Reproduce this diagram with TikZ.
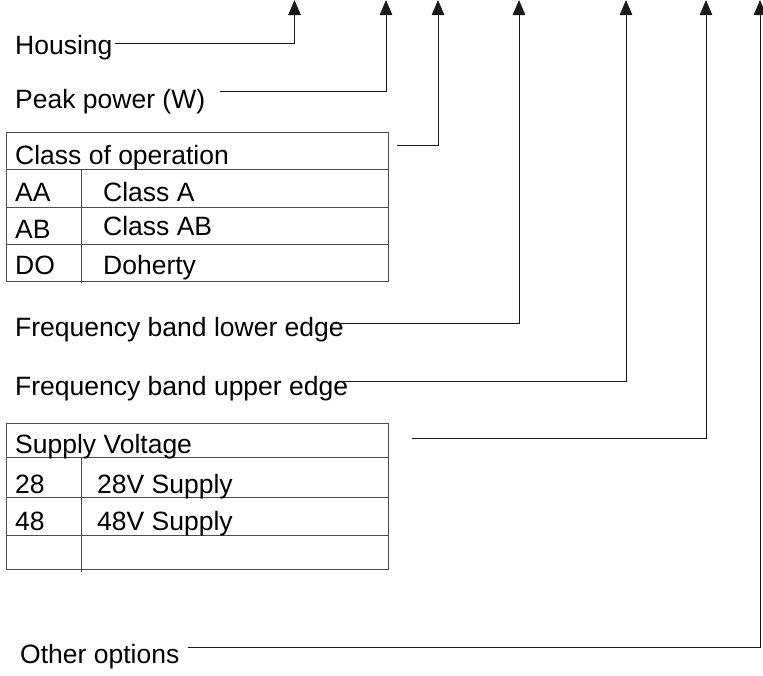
\documentclass[tikz,border=0pt]{standalone}
\usepackage{fontspec}
\setmainfont{Liberation Sans}
\usetikzlibrary{arrows.meta}
\begin{document}
\begin{tikzpicture}[x=1pt,y=-1pt,
  lbl/.style={anchor=base west,inner sep=0pt,font=\fontsize{26.5}{30}\selectfont},
  conn/.style={draw=black!90,line width=0.9pt,-{Triangle[length=15pt,width=12.5pt]}},
  tbl/.style={draw=black!70,line width=0.9pt,anchor=north west,inner sep=0pt},
  rule/.style={draw=black!70,line width=0.9pt}]
\useasboundingbox (0,0) rectangle (763,675);
% labels
\node[lbl] (hous) at (15,54) {Housing};
\node[lbl] (peak) at (15,108) {Peak power (W)};
\node[lbl] (flow) at (15,336) {Frequency band lower edge};
\node[lbl] (fup) at (15,395) {Frequency band upper edge};
\node[lbl] (oth) at (20,663) {Other options};
% class table
\node[tbl,minimum width=382pt,minimum height=149pt] (cls) at (6,132) {};
\draw[rule] (6,169) -- (388,169) (6,207) -- (388,207) (6,244) -- (388,244);
\draw[rule] (81,169) -- (81,283);
\node[lbl] (clsh) at (15,164) {Class of operation};
\node[lbl] (aa) at (15,201) {AA};
\node[lbl] (ca) at (103,201) {Class A};
\node[lbl] (ab) at (15,238) {AB};
\node[lbl] (cab) at (103,235) {Class AB};
\node[lbl] (do) at (15,274) {DO};
\node[lbl] (doh) at (103,274) {Doherty};
% supply table
\node[tbl,minimum width=382pt,minimum height=146pt] (sup) at (6,423) {};
\draw[rule] (6,457) -- (388,457) (6,497) -- (388,497) (6,535) -- (388,535);
\draw[rule] (81,457) -- (81,572);
\node[lbl] (suph) at (15,453) {Supply Voltage};
\node[lbl] (s28) at (15,493) {28};
\node[lbl] (s28t) at (97,493) {28V Supply};
\node[lbl] (s48) at (15,530) {48};
\node[lbl] (s48t) at (97,530) {48V Supply};
% connector ends
\coordinate (a1) at (115,43);  \coordinate (t1) at (294.5,0);
\coordinate (a2) at (220,91);  \coordinate (t2) at (386,0);
\coordinate (a3) at (397,145); \coordinate (t3) at (438,0);
\coordinate (a4) at (335,323.5); \coordinate (t4) at (519,0);
\coordinate (a5) at (337,381.5); \coordinate (t5) at (626,0);
\coordinate (a6) at (412,438); \coordinate (t6) at (706,0);
\coordinate (a7) at (188,647); \coordinate (t7) at (760,0);
\draw[conn] (a1) -| (t1);
\draw[conn] (a2) -| (t2);
\draw[conn] (a3) -| (t3);
\draw[conn] (a4) -| (t4);
\draw[conn] (a5) -| (t5);
\draw[conn] (a6) -| (t6);
\draw[conn] (a7) -| (t7);
\end{tikzpicture}
\end{document}
